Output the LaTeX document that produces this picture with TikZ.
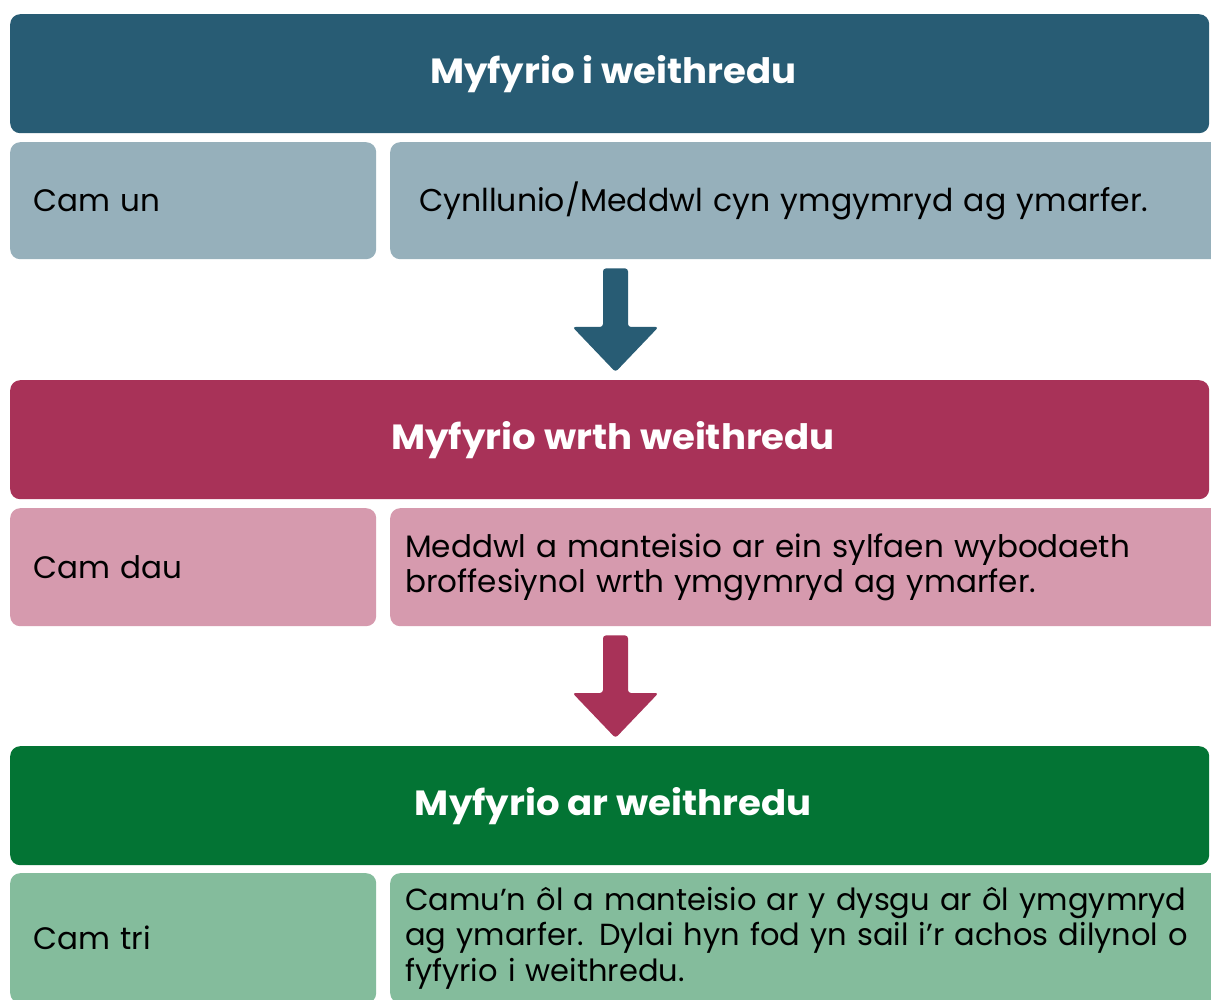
\documentclass[tikz,border=0pt]{standalone}
\usepackage{fontspec}
\setmainfont{Poppins}
\newfontfamily\titlefont[FakeStretch=1.06]{Poppins}
\usetikzlibrary{calc}
\definecolor{hA}{HTML}{285C74}
\definecolor{rA}{HTML}{96B0BB}
\definecolor{hB}{HTML}{A83258}
\definecolor{rB}{HTML}{D69AAE}
\definecolor{hC}{HTML}{037434}
\definecolor{rC}{HTML}{84BC9C}
\tikzset{
  head/.style={rounded corners=10pt, anchor=north west, minimum width=1199pt, minimum height=119pt,
    text=white, font=\titlefont\fontsize{35}{40}\selectfont\bfseries, inner sep=0pt},
  lbox/.style={rounded corners=10pt, anchor=north west, minimum width=366pt, inner xsep=23pt,
    text width=320pt, align=left, font=\fontsize{31}{36}\selectfont},
  rbox/.style={rounded corners=10pt, anchor=north west, minimum width=819pt,
    text width=805pt, align=left, font=\fontsize{31}{35}\selectfont},
}
\newcommand{\downarrowshape}[3]{% color, start coord, end coord
  \fill[#1, rounded corners=3pt] ($(#2)+(-12.5,0)$) -- ($(#2)+(12.5,0)$) -- ($(#3)+(12.5,-45)$)
    -- ($(#3)+(43,-45)$) -- (#3) -- ($(#3)+(-43,-45)$) -- ($(#3)+(-12.5,-45)$) -- cycle;}
\begin{document}
\begin{tikzpicture}[x=1pt,y=-1pt]
\useasboundingbox (0,0) rectangle (1211,1000);
\fill[white] (0,0) rectangle (1211,1000);

\node[head, fill=hA] (h1) at (10,14) {\hspace*{7pt}Myfyrio i weithredu};
\node[lbox, fill=rA, minimum height=117pt] (l1) at (10,142) {\raisebox{-4pt}{Cam un}};
\node[rbox, fill=rA, minimum height=117pt, inner xsep=29pt, font=\fontsize{31.5}{35}\selectfont] (r1) at (390,142) {\raisebox{4pt}{Cynllunio/Meddwl cyn ymgymryd ag ymarfer.}};

\node[head, fill=hB] (h2) at (10,380) {\hspace*{7pt}Myfyrio wrth weithredu};
\node[lbox, fill=rB, minimum height=118pt] (l2) at (10,508) {Cam dau};
\node[rbox, fill=rB, minimum height=118pt, inner xsep=15pt] (r2) at (390,508) {Meddwl a manteisio ar ein sylfaen wybodaeth\\broffesiynol wrth ymgymryd ag ymarfer.};

\node[head, fill=hC] (h3) at (10,746) {\hspace*{7pt}Myfyrio ar weithredu};
\node[lbox, fill=rC, minimum height=130pt] (l3) at (10,873) {Cam tri};
\node[rbox, fill=rC, minimum height=130pt, inner xsep=15pt, font=\fontsize{30.5}{35.5}\selectfont] (r3) at (390,873) {Camu’n ôl a manteisio ar y dysgu ar ôl ymgymryd\\ag ymarfer. Dylai hyn fod yn sail i’r achos dilynol o\\fyfyrio i weithredu.};

\coordinate (a1s) at ($(r1.south west)+(225.5,9)$);
\coordinate (a1e) at ($(h2.north west)+(605.5,-8)$);
\downarrowshape{hA}{a1s}{a1e}
\coordinate (a2s) at ($(r2.south west)+(225.5,9)$);
\coordinate (a2e) at ($(h3.north west)+(605.5,-8)$);
\downarrowshape{hB}{a2s}{a2e}
\end{tikzpicture}
\end{document}
